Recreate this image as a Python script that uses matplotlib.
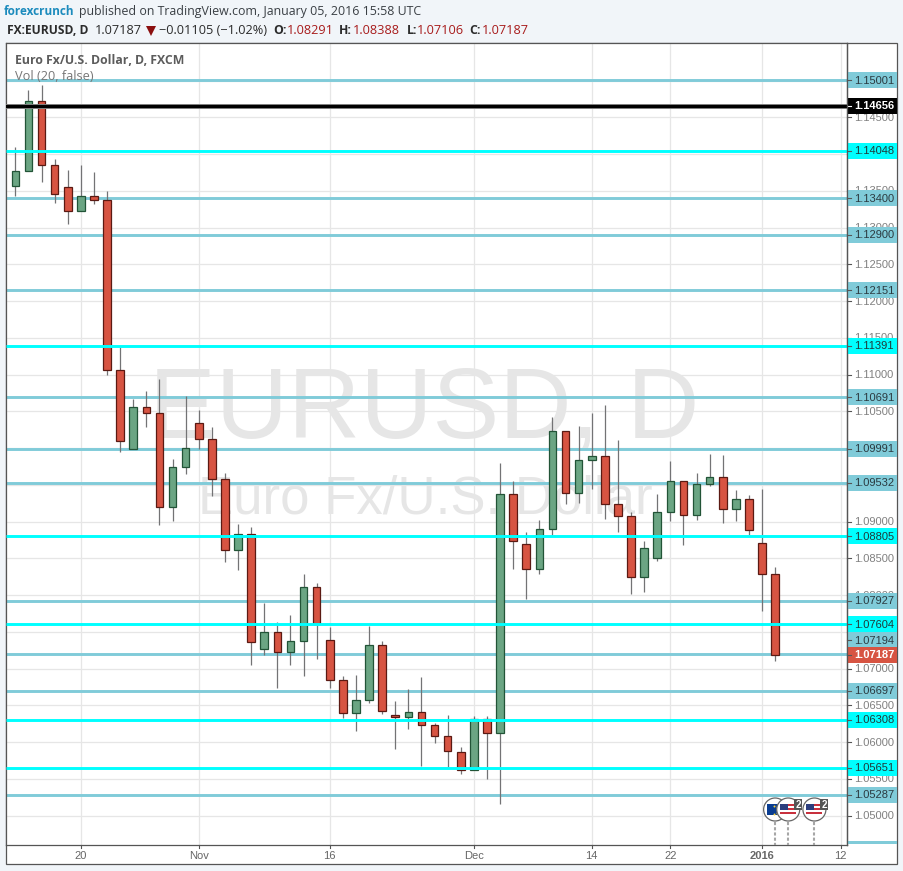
import matplotlib
matplotlib.use('Agg')
import matplotlib.pyplot as plt
from matplotlib.patches import Rectangle, Circle, Polygon
import numpy as np

# daily candles
open_ = [1.13561, 1.13765, 1.14718, 1.13847, 1.13548, 1.13221, 1.13425, 1.13375, 1.11059, 1.09984,
         1.10555, 1.10474, 1.09195, 1.09739, 1.10338, 1.10120, 1.09576, 1.08610, 1.08828, 1.07264,
         1.07495, 1.07223, 1.07373, 1.08107, 1.07386, 1.06842, 1.06393, 1.06570, 1.07318, 1.06366,
         1.06339, 1.06407, 1.06230, 1.06080, 1.05863, 1.05618, 1.06312, 1.06121, 1.09372, 1.08692,
         1.08352, 1.08896, 1.10229, 1.09386, 1.09835, 1.09889, 1.09236, 1.09073, 1.08243, 1.08502,
         1.09127, 1.09549, 1.09086, 1.09508, 1.09603, 1.09168, 1.09304, 1.08706, 1.08291]
high = [1.14096, 1.14871, 1.14939, 1.13933, 1.13783, 1.13851, 1.13756, 1.13498, 1.11376, 1.10664,
        1.10773, 1.10940, 1.09852, 1.10709, 1.10515, 1.10283, 1.09658, 1.08964, 1.08923, 1.07894,
        1.07635, 1.07726, 1.08288, 1.08166, 1.07567, 1.06900, 1.06914, 1.07585, 1.07377, 1.06561,
        1.06724, 1.06887, 1.06261, 1.06370, 1.05935, 1.06356, 1.06356, 1.09798, 1.09553, 1.08855,
        1.09018, 1.10419, 1.10229, 1.10301, 1.10478, 1.10587, 1.10111, 1.09131, 1.08737, 1.09376,
        1.09825, 1.09549, 1.09662, 1.09920, 1.09907, 1.09431, 1.09363, 1.09444, 1.08388]
low = [1.13434, 1.13765, 1.13624, 1.13338, 1.13053, 1.13221, 1.13325, 1.10999, 1.09951, 1.09984,
       1.10292, 1.08959, 1.09013, 1.09652, 1.09992, 1.09353, 1.08447, 1.08338, 1.07054, 1.07190,
       1.06741, 1.07054, 1.06905, 1.07136, 1.06741, 1.06333, 1.06152, 1.06537, 1.06388, 1.05912,
       1.06184, 1.05676, 1.05993, 1.05667, 1.05572, 1.05618, 1.05504, 1.05164, 1.08360, 1.07948,
       1.08292, 1.08823, 1.09244, 1.09258, 1.09448, 1.09040, 1.08863, 1.08020, 1.08047, 1.08469,
       1.09013, 1.08687, 1.09027, 1.09489, 1.08986, 1.09013, 1.08814, 1.07789, 1.07106]
close = [1.13765, 1.14718, 1.13847, 1.13453, 1.13221, 1.13425, 1.13375, 1.11059, 1.10093, 1.10555,
         1.10474, 1.09195, 1.09739, 1.09998, 1.10120, 1.09576, 1.08610, 1.08828, 1.07359, 1.07495,
         1.07223, 1.07373, 1.08107, 1.07608, 1.06842, 1.06393, 1.06570, 1.07318, 1.06420, 1.06339,
         1.06407, 1.06230, 1.06080, 1.05876, 1.05618, 1.06312, 1.06121, 1.09372, 1.08733, 1.08352,
         1.08896, 1.10229, 1.09386, 1.09835, 1.09889, 1.09236, 1.09073, 1.08243, 1.08638, 1.09127,
         1.09549, 1.09086, 1.09508, 1.09603, 1.09168, 1.09304, 1.08882, 1.08284, 1.07187]

# horizontal levels drawn by the author
teal_levels = [1.15001, 1.13400, 1.12900, 1.12151, 1.10691, 1.09991, 1.09532, 1.07927, 1.07194, 1.06697, 1.05287]
cyan_levels = [1.14048, 1.11391, 1.08805, 1.07604, 1.06308, 1.05651]
black_level = 1.14656
last_price = 1.07187

y_ticks = [1.05, 1.055, 1.06, 1.065, 1.07, 1.075, 1.08, 1.085, 1.09, 1.095, 1.10,
           1.105, 1.11, 1.115, 1.12, 1.125, 1.13, 1.135, 1.14, 1.145, 1.15]
x_ticks = [5, 14, 24, 35, 44, 50, 57, 63]
x_labels = ['20', 'Nov', '16', 'Dec', '14', '22', '2016', '12']
event_idx = [58, 59, 61]
event_flags = ['eu', 'us', 'us']

W, H = 904, 871
BG = '#f1f5f9'
TEAL = '#80cbd9'
CYAN = '#00ffff'
GREEN, GREEN_E = '#6ba583', '#225437'
RED, RED_E = '#d75442', '#5b1a13'
FONT = ['Open Sans', 'DejaVu Sans']
SCALE_FONT = ['Liberation Sans', 'DejaVu Sans']
SCALE_SIZE = 8.0

fig = plt.figure(figsize=(W / 100, H / 100), dpi=100, facecolor=BG)

# pixel layer under the plot, only the white card
ov = fig.add_axes([0, 0, 1, 1], zorder=0)
ov.set_xlim(0, W)
ov.set_ylim(H, 0)
ov.axis('off')
ov.add_patch(Rectangle((6.5, 43.5), 891, 820.5, facecolor='white', edgecolor='#555555', lw=0.9))

L, R, T, B = 6.5, 847.3, 43.5, 845.0
ax = fig.add_axes([L / W, 1 - B / H, (R - L) / W, (B - T) / H], zorder=1)
ax.set_xlim(-0.672, 63.51)
ax.set_ylim(1.04602, 1.15504)
ax.set_facecolor('white')
for s in ['top', 'left', 'right', 'bottom']:
    ax.spines[s].set_color('#555555')
    ax.spines[s].set_linewidth(0.9)

ax.set_xticks(x_ticks)
ax.set_xticklabels([])
ax.set_yticks(y_ticks)
ax.set_yticklabels([])
ax.tick_params(axis='both', length=0)
ax.grid(True, color='#e6e6e6', linewidth=0.9, zorder=0)
ax.set_axisbelow(True)

# pixel layer over the plot
top = fig.add_axes([0, 0, 1, 1], zorder=2)
top.set_xlim(0, W)
top.set_ylim(H, 0)
top.axis('off')
top.patch.set_alpha(0)

# watermark
ax.text(424 / W, 1 - 412 / H, 'EURUSD, D', transform=fig.transFigure, ha='center', va='center',
        fontsize=72, color='#e6e6e6', family=SCALE_FONT, zorder=1)
ax.text(425 / W, 1 - 500 / H, 'Euro Fx/U.S. Dollar', transform=fig.transFigure, ha='center', va='center',
        fontsize=38, color='#e6e6e6', family=SCALE_FONT, zorder=1)

# teal levels sit under the candles, cyan and black over them
ax.hlines(teal_levels, -0.672, 63.51, color=TEAL, linewidth=2.1, zorder=2)

idx = np.arange(len(open_))
for i in idx:
    up = close[i] >= open_[i]
    ax.vlines(i, low[i], high[i], color='#737375', linewidth=0.9, zorder=3)
    ax.bar(i, abs(close[i] - open_[i]), bottom=min(open_[i], close[i]), width=0.58,
           color=GREEN if up else RED, edgecolor=GREEN_E if up else RED_E, linewidth=0.9, zorder=4)

ax.hlines(cyan_levels, -0.672, 63.51, color=CYAN, linewidth=2.1, zorder=5)
ax.axhline(black_level, color='#999999', linewidth=3.6, zorder=5)
ax.axhline(black_level, color='black', linewidth=2.4, zorder=6)


def py(price):
    return H - ax.transData.transform((0, price))[1]


def px(i):
    return ax.transData.transform((i, 0))[0]


# where the coloured price boxes go, the 1.07194 one is pushed up by the last price
boxes = []
for v in teal_levels:
    boxes.append((v, TEAL, '#2b3a40', 640 if v == 1.07194 else py(v), 'normal'))
for v in cyan_levels:
    boxes.append((v, CYAN, '#1f3a3a', py(v), 'normal'))
boxes.append((black_level, 'black', 'white', py(black_level), 'bold'))
boxes.append((last_price, RED, 'white', py(last_price), 'bold'))


def covered(y):
    return any(abs(y - b[3]) <= 8 for b in boxes)


# price scale
for t in y_ticks:
    y = py(t)
    top.plot([R, R + 4], [y, y], color='#555555', lw=0.8, zorder=1)
    if not (covered(y - 4) and covered(y + 4)):
        top.text(854.5, y + 0.5, '%.5f' % t, ha='left', va='center', fontsize=SCALE_SIZE, color='#808080',
                 family=SCALE_FONT, zorder=1)

for v, face, txt, y, weight in boxes:
    top.add_patch(Rectangle((R, y - 8), 50, 16, facecolor=face, edgecolor='none', zorder=3))
    top.plot([R, R + 4], [y, y], color='#555555' if face != 'black' else 'white', lw=0.8, zorder=4)
    top.text(854.5, y + 0.5, '%.5f' % v, ha='left', va='center', fontsize=SCALE_SIZE, color=txt,
             family=SCALE_FONT, weight=weight, zorder=4)
top.add_patch(Rectangle((R, 841), 50, 3, facecolor=TEAL, edgecolor='none', zorder=3))
top.plot([R, R], [T, B], color='#555555', lw=0.9, zorder=5)

# time scale
for t, lab in zip(x_ticks, x_labels):
    top.plot([px(t), px(t)], [B, B + 3], color='#555555', lw=0.8)
    top.text(px(t), 855.5, lab, ha='center', va='center', fontsize=SCALE_SIZE, color='#666666', family=SCALE_FONT,
             weight='bold' if lab == '2016' else 'normal')

# event bubbles, each later one covers the one before it
for n, (i, flag) in enumerate(zip(event_idx, event_flags)):
    z = 10 + n * 10
    cx, cy = px(i), 809.5
    top.plot([cx, cx], [cy + 12, 845], color='#a6a6a6', lw=1.5, ls=(0, (1.5, 1.0)), zorder=6)
    top.add_patch(Circle((cx, cy), 11.5, facecolor='white', edgecolor='#666666', lw=0.9, zorder=z))
    if flag == 'eu':
        top.add_patch(Rectangle((cx - 8, cy - 5.5), 16, 11, facecolor='#0a3d91', edgecolor='none', zorder=z + 1))
        top.scatter([cx - 1, cx + 2, cx + 3, cx + 2, cx - 1], [cy - 4, cy - 3, cy, cy + 3, cy + 4], s=2, color='#ffd633',
                    zorder=z + 2, linewidths=0)
    else:
        top.add_patch(Rectangle((cx - 8, cy - 5.5), 16, 11, facecolor='white', edgecolor='none', zorder=z + 1))
        for k in range(3):
            top.add_patch(Rectangle((cx - 8, cy - 5.5 + k * 4), 16, 2, facecolor='#c8313e', edgecolor='none', zorder=z + 1))
        top.add_patch(Rectangle((cx - 8, cy - 5.5), 8, 6, facecolor='#2c3e7e', edgecolor='none', zorder=z + 2))
        top.add_patch(Rectangle((cx + 6, cy - 10.5), 8, 11, facecolor='#555555', edgecolor='none', zorder=z + 3))
        top.text(cx + 10, cy - 5, '2', ha='center', va='center', color='white', fontsize=7, weight='bold',
                 family=SCALE_FONT, zorder=z + 4)

# header lines
top.text(4, 11.5, 'forexcrunch', fontsize=8.5, weight='bold', color='#1c8bbd', family=FONT, va='center')
top.text(79, 11.5, 'published on TradingView.com, January 05, 2016 15:58 UTC', fontsize=8.95, color='#3a3f44',
         family=FONT, va='center')
top.text(7, 30, 'FX:EURUSD, D', fontsize=8.65, weight='bold', color='#2c2c2c', family=FONT, va='center')
top.text(95, 30, '1.07187', fontsize=9.2, color='#2c2c2c', family=FONT, va='center')
top.add_patch(Polygon([[146, 26], [156, 26], [151, 36]], closed=True, facecolor='#8b0f0f', edgecolor='none'))
top.text(159, 30, '\u22120.01105 (\u22121.02%)', fontsize=9.2, color='#2c2c2c', family=FONT, va='center')
for lab, xl, val, xv in [('O:', 273, '1.08291', 287), ('H:', 339, '1.08388', 353), ('L:', 407, '1.07106', 417),
                         ('C:', 469, '1.07187', 482)]:
    top.text(xl, 30, lab, fontsize=8.8, weight='bold', color='#2c2c2c', family=FONT, va='center')
    top.text(xv, 30, val, fontsize=9.2, color='#a81c1c', family=FONT, va='center')

# legend inside the pane
top.text(15.5, 60.5, 'Euro Fx/U.S. Dollar, D, FXCM', fontsize=8.8, weight='bold', color='#5c5c5c', family=FONT, va='center')
top.text(15.5, 77, 'Vol (20, false)', fontsize=9.2, color='#777777', family=FONT, va='center')

fig.savefig('out.png', dpi=100, facecolor=BG)
